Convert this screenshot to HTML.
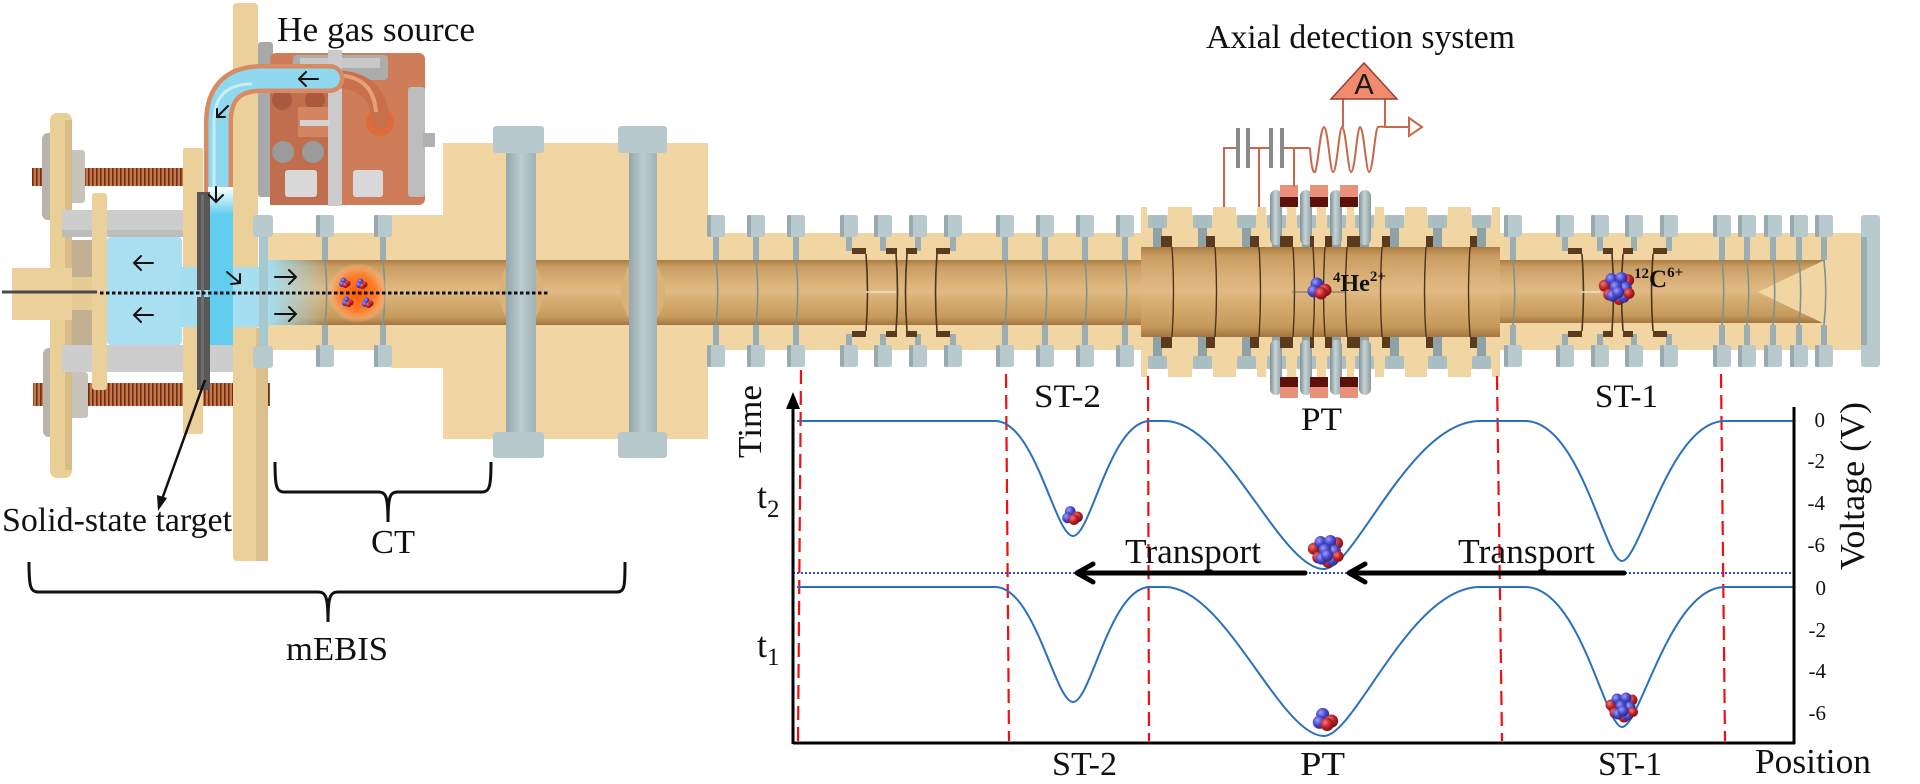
<!DOCTYPE html>
<html><head><meta charset="utf-8">
<style>
html,body{margin:0;padding:0;background:#fff;width:1920px;height:784px;overflow:hidden}
svg{display:block}
.t{font-family:"Liberation Serif","Times New Roman",serif;fill:#111}
</style></head><body>
<svg width="1920" height="784" viewBox="0 0 1920 784" xmlns="http://www.w3.org/2000/svg">
<defs>
<linearGradient id="bore" x1="0" y1="0" x2="0" y2="1">
<stop offset="0" stop-color="#aa7c42"/><stop offset="0.1" stop-color="#c99d62"/><stop offset="0.38" stop-color="#dcb47c"/><stop offset="0.5" stop-color="#e0ba84"/><stop offset="0.62" stop-color="#d6ad72"/><stop offset="0.88" stop-color="#c69a5c"/><stop offset="1" stop-color="#a37540"/>
</linearGradient>
<linearGradient id="cyf" x1="0" y1="0" x2="1" y2="0">
<stop offset="0" stop-color="#a4def0" stop-opacity="1"/><stop offset="1" stop-color="#a4def0" stop-opacity="0"/>
</linearGradient>
<linearGradient id="cyv" x1="0" y1="0" x2="0" y2="1">
<stop offset="0" stop-color="#ffffff"/><stop offset="1" stop-color="#62cdee"/>
</linearGradient>
<linearGradient id="cylG" x1="0" y1="0" x2="1" y2="0">
<stop offset="0" stop-color="#7f9296"/><stop offset="0.45" stop-color="#c6d4d7"/><stop offset="1" stop-color="#8a9ca0"/>
</linearGradient>
<linearGradient id="ringG" x1="0" y1="0" x2="1" y2="0">
<stop offset="0" stop-color="#93a8ac"/><stop offset="0.5" stop-color="#bccbce"/><stop offset="1" stop-color="#9fb3b7"/>
</linearGradient>
<radialGradient id="glow" cx="0.5" cy="0.5" r="0.5">
<stop offset="0" stop-color="#ff5a05"/><stop offset="0.6" stop-color="#ff7d2a"/><stop offset="0.85" stop-color="#ffa060" stop-opacity="0.7"/><stop offset="1" stop-color="#ffc090" stop-opacity="0"/>
</radialGradient>
<radialGradient id="gr" cx="0.35" cy="0.35" r="0.75">
<stop offset="0" stop-color="#f07a7a"/><stop offset="0.5" stop-color="#c0222a"/><stop offset="1" stop-color="#6e0a10"/>
</radialGradient>
<radialGradient id="gb" cx="0.35" cy="0.35" r="0.75">
<stop offset="0" stop-color="#9c9cff"/><stop offset="0.5" stop-color="#4848c8"/><stop offset="1" stop-color="#22227a"/>
</radialGradient>
<pattern id="thr" width="4" height="24" patternUnits="userSpaceOnUse">
<rect width="4" height="24" fill="#c9774c"/><rect width="1.6" height="24" fill="#6a2f14"/>
</pattern>
<g id="eS">
<rect x="-9" y="215" width="18" height="22" rx="2.5" fill="#b8cacd"/>
<rect x="-9" y="215" width="4" height="22" rx="1.5" fill="#97abaf"/>
<rect x="-3" y="237" width="6" height="23" fill="#9bafb3"/>
<path d="M0 260 Q3.5 292.5 0 325" fill="none" stroke="#7d9296" stroke-width="1.6"/>
<rect x="-3" y="325" width="6" height="20" fill="#9bafb3"/>
<rect x="-9" y="345" width="18" height="22" rx="2.5" fill="#b8cacd"/>
<rect x="-9" y="345" width="4" height="22" rx="1.5" fill="#97abaf"/>
</g>
<g id="eN">
<rect x="-9" y="215" width="18" height="22" rx="2.5" fill="#b8cacd"/>
<rect x="-9" y="215" width="4" height="22" rx="1.5" fill="#97abaf"/>
<rect x="-3" y="237" width="6" height="14" fill="#9bafb3"/>
<rect x="-3" y="334" width="6" height="11" fill="#9bafb3"/>
<rect x="-9" y="345" width="18" height="22" rx="2.5" fill="#b8cacd"/>
<rect x="-9" y="345" width="4" height="22" rx="1.5" fill="#97abaf"/>
</g>
<g id="eP">
<rect x="-10" y="206" width="21" height="9" fill="#ffffff"/>
<rect x="-10" y="369" width="21" height="8" fill="#ffffff"/>
<rect x="-9" y="215" width="19" height="13" rx="2" fill="#abbec2"/>
<rect x="-4" y="228" width="9" height="19" fill="#8ea3a7"/>
<rect x="-4" y="337" width="9" height="19" fill="#8ea3a7"/>
<rect x="-9" y="356" width="19" height="13" rx="2" fill="#abbec2"/>
</g>
<g id="he4">
<circle cx="-3" cy="-5" r="6" fill="url(#gb)"/>
<circle cx="-6" cy="2" r="6" fill="url(#gb)"/>
<circle cx="5" cy="1" r="6" fill="url(#gr)"/>
<circle cx="1" cy="4" r="6" fill="url(#gr)"/>
</g>
<g id="c12">
<circle cx="-11" cy="-3" r="5.5" fill="url(#gr)"/>
<circle cx="10" cy="-8" r="5.5" fill="url(#gr)"/>
<circle cx="-5" cy="-9" r="5.5" fill="url(#gb)"/>
<circle cx="4" cy="-10" r="5.5" fill="url(#gb)"/>
<circle cx="-7" cy="5" r="5.5" fill="url(#gr)"/>
<circle cx="8" cy="-1" r="5.5" fill="url(#gb)"/>
<circle cx="-1" cy="-2" r="5.5" fill="url(#gb)"/>
<circle cx="2" cy="9" r="5.5" fill="url(#gr)"/>
<circle cx="-4" cy="6" r="5.5" fill="url(#gb)"/>
<circle cx="6" cy="7" r="5.5" fill="url(#gb)"/>
<circle cx="11" cy="4" r="5" fill="url(#gr)"/>
<circle cx="1" cy="3" r="5.5" fill="url(#gb)"/>
</g>
</defs>

<!-- ===== LEFT mEBIS ASSEMBLY ===== -->
<rect x="32" y="168" width="11" height="18" fill="url(#thr)"/>
<rect x="85" y="168" width="98" height="18" fill="url(#thr)"/>
<rect x="257" y="168" width="13" height="18" fill="url(#thr)"/>
<rect x="33" y="383" width="11" height="23" fill="url(#thr)"/>
<rect x="88" y="383" width="95" height="23" fill="url(#thr)"/>
<rect x="203" y="383" width="30" height="23" fill="url(#thr)"/>
<rect x="257" y="383" width="13" height="23" fill="url(#thr)"/>
<rect x="42" y="133" width="14" height="87" rx="6" fill="#b9b4ab"/>
<rect x="55" y="150" width="30" height="53" rx="3" fill="#c9c4bb"/>
<rect x="43" y="348" width="14" height="89" rx="6" fill="#b9b4ab"/>
<rect x="60" y="372" width="28" height="46" rx="3" fill="#c9c4bb"/>
<rect x="50" y="113" width="22" height="365" rx="7" fill="#ead097"/>
<rect x="65" y="120" width="7" height="350" fill="#d9bd88"/>
<rect x="12" y="268" width="62" height="52" fill="#ecd09a"/>
<rect x="72" y="240" width="20" height="105" fill="#c2b092"/>
<rect x="72" y="277" width="28" height="33" fill="#e6cb95"/>
<rect x="62" y="210" width="121" height="27" fill="#cdcdcd"/>
<rect x="62" y="345" width="171" height="27" fill="#cdcdcd"/>
<rect x="62" y="230" width="121" height="7" fill="#bdbdbd"/>
<rect x="107" y="237" width="75" height="108" rx="4" fill="#a9dff0"/>
<rect x="92" y="193" width="15" height="197" rx="3" fill="#ecd09a"/>
<rect x="183" y="148" width="20" height="286" rx="2" fill="#ecd09a"/>
<rect x="233" y="3" width="25" height="558" rx="4" fill="#ecd09a"/>
<rect x="256" y="328" width="12" height="233" fill="#dcc08c"/>
<rect x="258" y="42" width="15" height="155" rx="3" fill="#a9a9a9"/>

<!-- copper gas source -->
<rect x="270" y="53" width="155" height="152" rx="6" fill="#cf7d59"/>
<rect x="270" y="85" width="58" height="120" fill="#c06e4e"/>
<rect x="293" y="55" width="95" height="25" rx="4" fill="#acacac"/>
<rect x="300" y="58" width="80" height="10" fill="#c8c8c8"/>
<rect x="328" y="50" width="14" height="156" fill="#cbcbcb"/>
<rect x="408" y="87" width="17" height="110" rx="3" fill="#bdbdbd"/>
<rect x="423" y="133" width="12" height="14" fill="#b0b0b0"/>
<circle cx="282" cy="100" r="10" fill="#a95a3e"/>
<circle cx="315" cy="100" r="10" fill="#a95a3e"/>
<circle cx="283" cy="152" r="11" fill="#9b9b9b"/>
<circle cx="313" cy="152" r="11" fill="#9b9b9b"/>
<rect x="298" y="107" width="30" height="30" fill="#d58460"/>
<rect x="300" y="120" width="30" height="6" fill="#d4d4d4"/>
<rect x="285" y="170" width="32" height="27" rx="3" fill="#d8d8d8"/>
<rect x="353" y="170" width="30" height="27" rx="3" fill="#d8d8d8"/>
<circle cx="380" cy="122" r="14" fill="#e06a38"/>
<path d="M333 79 C365 79 380 95 380 120" stroke="#c8704a" stroke-width="18" fill="none" stroke-linecap="round"/>
<path d="M336 75 C362 76 374 88 376 112" stroke="#e6a07a" stroke-width="4" fill="none"/>
<path d="M218.5 192 L218.5 122 Q218.5 78.5 262 78.5 L330 78.5" stroke="#d98a62" stroke-width="29" fill="none"/>
<circle cx="330" cy="78.5" r="14.5" fill="#d98a62"/>
<path d="M218.5 192 L218.5 122 Q218.5 78.5 262 78.5 L330 78.5" stroke="#8fd8ee" stroke-width="20" fill="none"/>
<circle cx="330" cy="78.5" r="10" fill="#8fd8ee"/>
<path d="M214 190 L214 122 Q214 84 252 84" stroke="#c6eef8" stroke-width="3" fill="none"/>

<!-- ===== HOUSINGS ===== -->
<rect x="268" y="233" width="175" height="117" fill="#f1d5a3"/>
<rect x="391" y="215" width="52" height="153" fill="#f1d5a3"/>
<rect x="443" y="143" width="265" height="296" fill="#f1d5a3"/>
<rect x="708" y="233" width="433" height="117" fill="#f1d5a3"/>
<rect x="1141" y="207" width="359" height="170" fill="#f1d5a3"/>
<rect x="1500" y="233" width="368" height="117" fill="#f1d5a3"/>

<!-- bores -->
<rect x="268" y="260" width="873" height="65" fill="url(#bore)"/>
<rect x="1141" y="247" width="359" height="90" fill="url(#bore)"/>
<rect x="1500" y="260" width="326" height="63" fill="url(#bore)"/>
<polygon points="1758,292 1827,259 1827,325" fill="#f1d5a3"/>

<!-- cyan passage -->
<rect x="180" y="267" width="90" height="60" fill="#a4def0"/>
<rect x="268" y="260" width="62" height="65" fill="url(#cyf)"/>
<rect x="208" y="187" width="25" height="158" fill="#62cdee"/>
<rect x="208" y="187" width="25" height="28" fill="url(#cyv)"/>
<rect x="197" y="192" width="13" height="98" fill="#575757"/>
<rect x="197" y="297" width="13" height="93" fill="#575757"/>
<rect x="201" y="195" width="3" height="190" fill="#6e6e6e"/>

<rect x="253" y="215" width="20" height="22" rx="3" fill="#b8cacd"/>
<rect x="253" y="346" width="20" height="22" rx="3" fill="#b8cacd"/>
<rect x="259" y="237" width="9" height="109" fill="#a6c8cf"/>

<!-- block rings -->
<ellipse cx="521" cy="292" rx="22" ry="33" fill="#d9b27a"/>
<ellipse cx="643" cy="292" rx="22" ry="33" fill="#d9b27a"/>
<rect x="493" y="126" width="51" height="27" rx="3" fill="#b7c9cd"/>
<rect x="506" y="153" width="30" height="279" fill="url(#ringG)"/>
<rect x="493" y="432" width="51" height="26" rx="3" fill="#b7c9cd"/>
<rect x="618" y="126" width="49" height="27" rx="3" fill="#b7c9cd"/>
<rect x="629" y="153" width="28" height="279" fill="url(#ringG)"/>
<rect x="618" y="432" width="49" height="26" rx="3" fill="#b7c9cd"/>

<!-- ST electrodes -->
<use href="#eS" x="325"/><use href="#eS" x="383"/>
<use href="#eS" x="716"/><use href="#eS" x="756"/><use href="#eS" x="796"/>
<use href="#eN" x="849"/><use href="#eN" x="883"/><use href="#eN" x="918"/><use href="#eN" x="953"/>
<use href="#eS" x="1005"/><use href="#eS" x="1045"/><use href="#eS" x="1085"/><use href="#eS" x="1125"/>
<use href="#eS" x="1513"/>
<use href="#eN" x="1565"/><use href="#eN" x="1600"/><use href="#eN" x="1634"/><use href="#eN" x="1669"/>
<use href="#eS" x="1722"/><use href="#eS" x="1747"/><use href="#eS" x="1773"/><use href="#eS" x="1799"/><use href="#eS" x="1824"/>
<rect x="1861" y="215" width="19" height="152" rx="3" fill="#b8cacd"/>
<rect x="1861" y="237" width="6" height="108" fill="#9bafb3"/>

<g fill="#5b3a1d">
<rect x="852" y="248" width="14" height="6"/><rect x="852" y="331" width="14" height="6"/>
<rect x="886" y="248" width="11" height="6"/><rect x="886" y="331" width="11" height="6"/>
<rect x="906" y="248" width="11" height="6"/><rect x="906" y="331" width="11" height="6"/>
<rect x="936" y="248" width="14" height="6"/><rect x="936" y="331" width="14" height="6"/>
<rect x="1568" y="248" width="14" height="6"/><rect x="1568" y="331" width="14" height="6"/>
<rect x="1603" y="248" width="10" height="6"/><rect x="1603" y="331" width="10" height="6"/>
<rect x="1623" y="248" width="10" height="6"/><rect x="1623" y="331" width="10" height="6"/>
<rect x="1653" y="248" width="14" height="6"/><rect x="1653" y="331" width="14" height="6"/>
</g>
<g fill="none" stroke="#4e3418" stroke-width="1.6">
<path d="M866 254 Q869 292 866 331"/><path d="M896 254 Q899 292 896 331"/>
<path d="M907 254 Q904 292 907 331"/><path d="M937 254 Q934 292 937 331"/>
<path d="M1582 254 Q1585 292 1582 331"/><path d="M1612 254 Q1615 292 1612 331"/>
<path d="M1623 254 Q1620 292 1623 331"/><path d="M1653 254 Q1650 292 1653 331"/>
</g>
<line x1="866" y1="292" x2="896" y2="292" stroke="#e8e0d0" stroke-width="1.5"/>

<!-- PT electrodes -->
<use href="#eP" x="1157"/><use href="#eP" x="1202"/><use href="#eP" x="1246"/><use href="#eP" x="1276"/><use href="#eP" x="1306"/>
<use href="#eP" x="1336"/><use href="#eP" x="1364"/><use href="#eP" x="1394"/><use href="#eP" x="1437"/><use href="#eP" x="1481"/>
<rect x="1270" y="190" width="12" height="55" rx="6" fill="url(#cylG)"/>
<rect x="1300" y="190" width="12" height="55" rx="6" fill="url(#cylG)"/>
<rect x="1330" y="190" width="12" height="55" rx="6" fill="url(#cylG)"/>
<rect x="1359" y="190" width="12" height="55" rx="6" fill="url(#cylG)"/>
<rect x="1270" y="340" width="12" height="55" rx="6" fill="url(#cylG)"/>
<rect x="1300" y="340" width="12" height="55" rx="6" fill="url(#cylG)"/>
<rect x="1330" y="340" width="12" height="55" rx="6" fill="url(#cylG)"/>
<rect x="1359" y="340" width="12" height="55" rx="6" fill="url(#cylG)"/>
<g fill="#5b3a1d">
<rect x="1161" y="236" width="11" height="11"/><rect x="1161" y="337" width="11" height="11"/>
<rect x="1206" y="236" width="9" height="11"/><rect x="1206" y="337" width="9" height="11"/>
<rect x="1250" y="236" width="9" height="11"/><rect x="1250" y="337" width="9" height="11"/>
<rect x="1280" y="236" width="13" height="11"/><rect x="1280" y="337" width="13" height="11"/>
<rect x="1310" y="236" width="4" height="11"/><rect x="1310" y="337" width="4" height="11"/>
<rect x="1325" y="236" width="7" height="11"/><rect x="1325" y="337" width="7" height="11"/>
<rect x="1347" y="236" width="13" height="11"/><rect x="1347" y="337" width="13" height="11"/>
<rect x="1382" y="236" width="8" height="11"/><rect x="1382" y="337" width="8" height="11"/>
<rect x="1426" y="236" width="7" height="11"/><rect x="1426" y="337" width="7" height="11"/>
<rect x="1470" y="236" width="7" height="11"/><rect x="1470" y="337" width="7" height="11"/>
</g>
<g fill="none" stroke="#4e3418" stroke-width="1.4">
<path d="M1172 247 Q1175 292 1172 337"/><path d="M1215 247 Q1218 292 1215 337"/><path d="M1259 247 Q1262 292 1259 337"/>
<path d="M1293 247 Q1296 292 1293 337"/><path d="M1313 247 Q1316 292 1313 337"/><path d="M1325 247 Q1322 292 1325 337"/>
<path d="M1347 247 Q1344 292 1347 337"/><path d="M1382 247 Q1379 292 1382 337"/><path d="M1426 247 Q1423 292 1426 337"/>
<path d="M1470 247 Q1467 292 1470 337"/>
</g>
<g>
<rect x="1280" y="185" width="18" height="12" fill="#e8907a"/><rect x="1280" y="197" width="18" height="10" fill="#5c100c"/>
<rect x="1310" y="185" width="18" height="12" fill="#e8907a"/><rect x="1310" y="197" width="18" height="10" fill="#5c100c"/>
<rect x="1340" y="185" width="18" height="12" fill="#e8907a"/><rect x="1340" y="197" width="18" height="10" fill="#5c100c"/>
<rect x="1280" y="377" width="18" height="10" fill="#5c100c"/><rect x="1280" y="387" width="18" height="11" fill="#e8907a"/>
<rect x="1310" y="377" width="18" height="10" fill="#5c100c"/><rect x="1310" y="387" width="18" height="11" fill="#e8907a"/>
<rect x="1340" y="377" width="18" height="10" fill="#5c100c"/><rect x="1340" y="387" width="18" height="11" fill="#e8907a"/>
</g>

<!-- circuit -->
<g fill="none" stroke="#c8684a" stroke-width="2">
<path d="M1224 207 V148 H1238"/>
<path d="M1249 148 H1271"/>
<path d="M1259 148 V207"/>
<path d="M1283 148 H1310"/>
<path d="M1294 148 V187"/>
<path d="M1310 148 C1311 165 1313 174 1315 172 C1318 168 1320 128 1324 127 C1328 128 1330 172 1333 172 C1337 172 1339 128 1342 127 C1346 128 1348 172 1351 172 C1355 172 1357 128 1360 127 C1364 128 1366 172 1369 172 C1373 172 1375 128 1378 127 C1381 126 1383 127 1385 127"/>
<path d="M1343 99 V127"/>
<path d="M1385 99 V127 H1410"/>
</g>
<polygon points="1409,118 1422,127 1409,136" fill="#fff" stroke="#c8684a" stroke-width="2"/>
<g fill="#8a8a8a">
<rect x="1236" y="128" width="4" height="40"/><rect x="1246" y="128" width="4" height="40"/>
<rect x="1269" y="128" width="4" height="40"/><rect x="1280" y="128" width="4" height="40"/>
</g>
<polygon points="1331,99 1397,99 1364,63" fill="#f28a70" stroke="#9a4030" stroke-width="1.5"/>
<text x="1364" y="94" font-family="Liberation Sans, Arial, sans-serif" font-size="29" text-anchor="middle" fill="#1a1a1a">A</text>

<line x1="2" y1="292" x2="97" y2="292" stroke="#4a4a4a" stroke-width="3"/>
<circle cx="358" cy="293" r="30" fill="url(#glow)"/>
<line x1="100" y1="293" x2="549" y2="293" stroke="#111" stroke-width="3" stroke-dasharray="3.5 2.5"/>
<use href="#he4" transform="translate(345,283) scale(0.5)"/>
<use href="#he4" transform="translate(362,284) scale(0.5)"/>
<use href="#he4" transform="translate(348,302) scale(0.5)"/>
<use href="#he4" transform="translate(368,303) scale(0.5)"/>
<line x1="1292" y1="292" x2="1345" y2="292" stroke="#6a6a6a" stroke-width="1"/>
<use href="#he4" transform="translate(1320,289) scale(1.05)"/>
<line x1="1581" y1="292" x2="1600" y2="292" stroke="#e8e0d0" stroke-width="1.5"/>
<use href="#c12" transform="translate(1617,289) scale(1.1)"/>

<g fill="none" stroke="#111" stroke-width="2" stroke-linecap="round">
<path d="M153 263 H134 M141 256 L134 263 L141 270"/>
<path d="M153 315 H134 M141 308 L134 315 L141 322"/>
<path d="M227 272 L240 283 M231 284 L240 283 L240 274"/>
<path d="M275 277 H296 M289 270 L296 277 L289 284"/>
<path d="M275 314 H296 M289 307 L296 314 L289 321"/>
<path d="M318 79 H299 M306 72 L299 79 L306 86"/>
<path d="M228 106 L217 117 M217 109 L217 117 L225 117"/>
<path d="M216 187 V202 M209 195 L216 202 L223 195"/>
</g>

<line x1="205" y1="380" x2="161" y2="502" stroke="#111" stroke-width="2.5"/>
<polygon points="158,511 167,498 157,495" fill="#111"/>
<path d="M275 462 C275 485 276 492 284 492 L378 492 C386 492 388 496 388 522 C388 496 390 492 398 492 L482 492 C490 492 491 485 491 462" fill="none" stroke="#111" stroke-width="3"/>
<path d="M29 562 C29 585 30 592 38 592 L318 592 C326 592 328 597 328 622 C328 597 330 592 338 592 L617 592 C625 592 625 585 625 562" fill="none" stroke="#111" stroke-width="3"/>

<text class="t" x="277" y="41" font-size="35" textLength="198" lengthAdjust="spacingAndGlyphs">He gas source</text>
<text class="t" x="1206" y="48" font-size="34" textLength="309" lengthAdjust="spacingAndGlyphs">Axial detection system</text>
<text class="t" x="2" y="531" font-size="34" textLength="230" lengthAdjust="spacingAndGlyphs">Solid-state target</text>
<text class="t" x="371" y="553" font-size="34" textLength="44" lengthAdjust="spacingAndGlyphs">CT</text>
<text class="t" x="286" y="660" font-size="34" textLength="102" lengthAdjust="spacingAndGlyphs">mEBIS</text>
<text class="t" x="1333" y="291" font-weight="bold" font-size="24"><tspan font-size="15" dy="-9">4</tspan><tspan dy="9">He</tspan><tspan font-size="15" dy="-10">2+</tspan></text>
<text class="t" x="1634" y="287" font-weight="bold" font-size="25"><tspan font-size="15" dy="-9">12</tspan><tspan dy="9">C</tspan><tspan font-size="15" dy="-10">6+</tspan></text>

<!-- ===== GRAPH ===== -->
<g stroke="#f01010" stroke-width="2.2" stroke-dasharray="14 7" fill="none">
<line x1="801" y1="370" x2="798" y2="741"/>
<line x1="1006" y1="374" x2="1009" y2="741"/>
<line x1="1148" y1="376" x2="1149" y2="741"/>
<line x1="1497" y1="376" x2="1502" y2="741"/>
<line x1="1721" y1="374" x2="1725" y2="741"/>
</g>
<line x1="793" y1="573" x2="1794" y2="573" stroke="#2a4fd0" stroke-width="2" stroke-dasharray="2 2"/>
<g fill="none" stroke="#2a6fc0" stroke-width="2">
<path d="M797 421 L995 421 C1035 421 1055 536 1073 536 C1091 536 1110 421 1150 421 L1165 421 C1225 421 1280 569 1324 569 C1355 569 1410 421 1480 421 L1525 421 C1580 421 1605 561 1622 561 C1640 561 1670 421 1725 421 L1793 421"/>
<path d="M797 587 L995 587 C1035 587 1055 702 1073 702 C1091 702 1110 587 1150 587 L1165 587 C1225 587 1280 736 1324 736 C1355 736 1410 587 1480 587 L1525 587 C1580 587 1605 727 1622 727 C1640 727 1670 587 1725 587 L1793 587"/>
</g>
<path d="M793 744 V404 M793 743 H1795 M1794 744 V407" fill="none" stroke="#000" stroke-width="3"/>
<polygon points="793,392 786,409 800,409" fill="#000"/>
<g fill="none" stroke="#000" stroke-width="5" stroke-linecap="round" stroke-linejoin="round">
<path d="M1305 573 H1080 M1093 564 L1077 573 L1093 582"/>
<path d="M1624 573 H1352 M1365 564 L1349 573 L1365 582"/>
</g>
<use href="#he4" transform="translate(1073,516) scale(0.9)"/>
<use href="#c12" transform="translate(1326,552) scale(1.1)"/>
<use href="#he4" transform="translate(1326,720) scale(1.1)"/>
<use href="#c12" transform="translate(1622,708) scale(1.0)"/>

<text class="t" transform="translate(761,458) rotate(-90)" font-size="34" textLength="73" lengthAdjust="spacingAndGlyphs">Time</text>
<text class="t" x="757" y="508" font-size="36">t<tspan font-size="25" dy="9">2</tspan></text>
<text class="t" x="757" y="657" font-size="36">t<tspan font-size="25" dy="8">1</tspan></text>
<text class="t" x="1034" y="407" font-size="33" textLength="67" lengthAdjust="spacingAndGlyphs">ST-2</text>
<text class="t" x="1301" y="430" font-size="33" textLength="41" lengthAdjust="spacingAndGlyphs">PT</text>
<text class="t" x="1595" y="407" font-size="33" textLength="63" lengthAdjust="spacingAndGlyphs">ST-1</text>
<text class="t" x="1052" y="775" font-size="34" textLength="65" lengthAdjust="spacingAndGlyphs">ST-2</text>
<text class="t" x="1300" y="775" font-size="34" textLength="45" lengthAdjust="spacingAndGlyphs">PT</text>
<text class="t" x="1598" y="775" font-size="34" textLength="64" lengthAdjust="spacingAndGlyphs">ST-1</text>
<text class="t" x="1755" y="773" font-size="35" textLength="116" lengthAdjust="spacingAndGlyphs">Position</text>
<text class="t" x="1125" y="563" font-size="35" textLength="136" lengthAdjust="spacingAndGlyphs">Transport</text>
<text class="t" x="1458" y="563" font-size="35" textLength="137" lengthAdjust="spacingAndGlyphs">Transport</text>
<text class="t" transform="translate(1864,570) rotate(-90)" font-size="35" textLength="168" lengthAdjust="spacingAndGlyphs">Voltage (V)</text>
<g class="t" font-size="21" text-anchor="end">
<text class="t" x="1825" y="427">0</text>
<text class="t" x="1825" y="468">-2</text>
<text class="t" x="1825" y="510">-4</text>
<text class="t" x="1825" y="552">-6</text>
<text class="t" x="1826" y="595">0</text>
<text class="t" x="1826" y="637">-2</text>
<text class="t" x="1826" y="678">-4</text>
<text class="t" x="1826" y="720">-6</text>
</g>
</svg>
</body></html>
